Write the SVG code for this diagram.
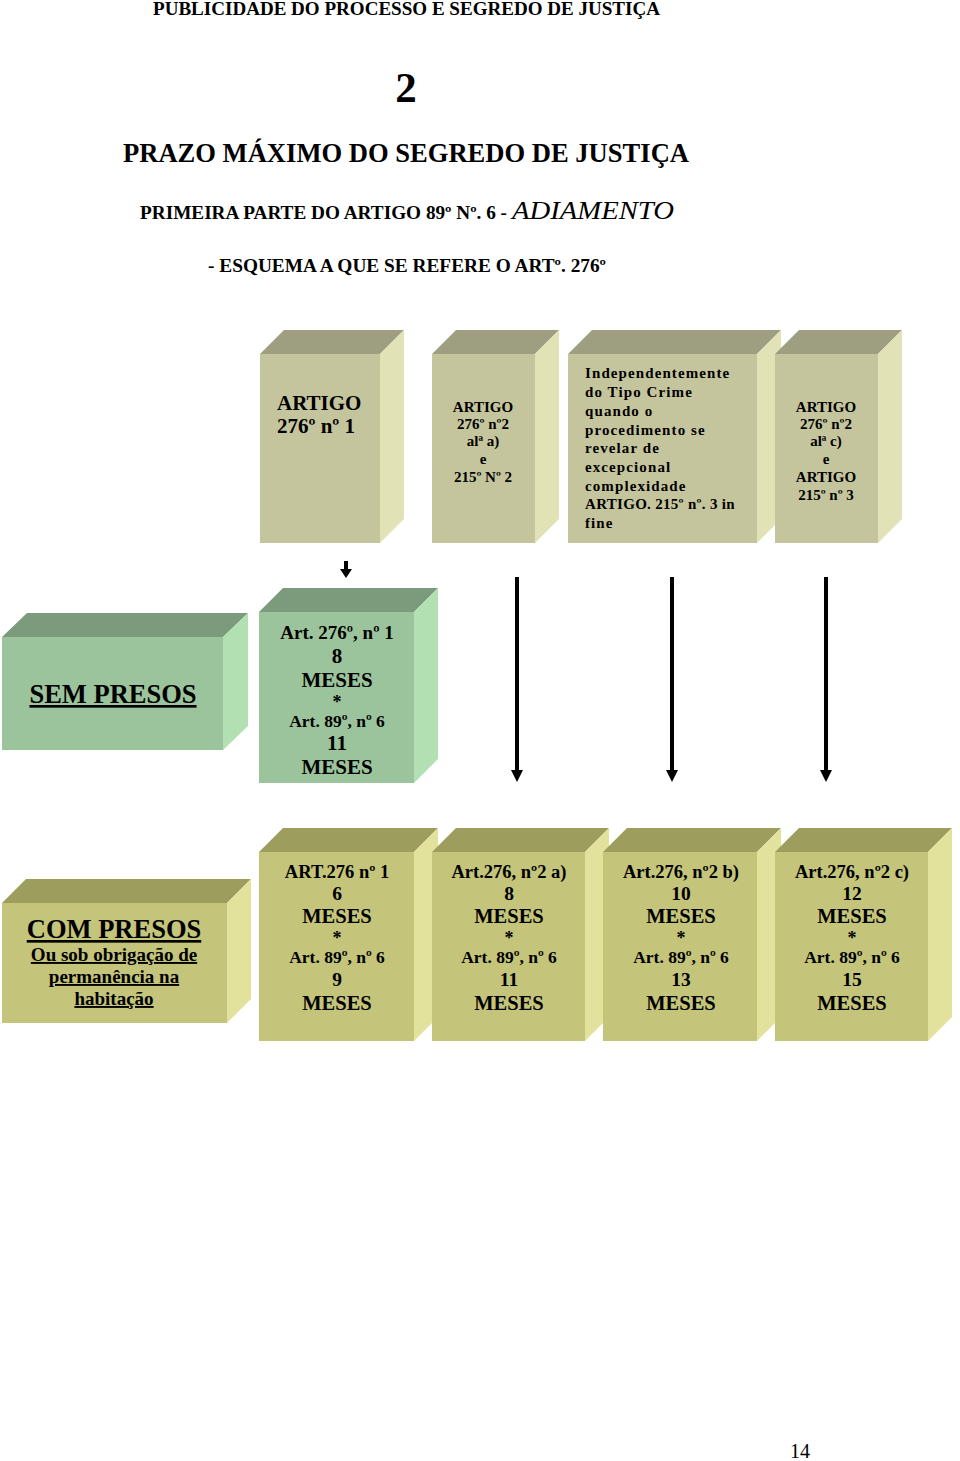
<svg xmlns="http://www.w3.org/2000/svg" width="960" height="1461" viewBox="0 0 960 1461">
<style>
text{font-family:"Liberation Serif","Times New Roman",serif;fill:#000;}
.b{font-weight:bold;}
.c{text-anchor:middle;}
.bf{fill:#C5C59D;}.bt{fill:#9E9F80;}.br{fill:#E2E2B7;}
.gf{fill:#9CC49C;}.gt{fill:#7C9B7C;}.gr{fill:#B3E0B3;}
.yf{fill:#C4C47A;}.yt{fill:#9D9D5E;}.yr{fill:#E2E29C;}
.conn{stroke:#000;stroke-width:4;fill:none;}
</style>
<defs>
<marker id="ah" viewBox="0 0 12 12" refX="0" refY="6" markerWidth="12" markerHeight="12" markerUnits="userSpaceOnUse" orient="auto"><path d="M0,0 L12,6 L0,12 z" fill="#000"/></marker>
<marker id="ahs" viewBox="0 0 9 12" refX="0" refY="6" markerWidth="9" markerHeight="12" markerUnits="userSpaceOnUse" orient="auto"><path d="M0,0 L9,6 L0,12 z" fill="#000"/></marker>
</defs>
<rect width="960" height="1461" fill="#fff"/>

<g id="header">
<text class="b" x="153" y="15" font-size="19" textLength="507" lengthAdjust="spacingAndGlyphs">PUBLICIDADE DO PROCESSO E SEGREDO DE JUSTIÇA</text>
<text class="b c" x="406" y="102" font-size="43">2</text>
<text class="b" x="123" y="162" font-size="27" textLength="566" lengthAdjust="spacingAndGlyphs">PRAZO MÁXIMO DO SEGREDO DE JUSTIÇA</text>
<text x="140" y="219"><tspan class="b" font-size="18" textLength="367" lengthAdjust="spacingAndGlyphs">PRIMEIRA PARTE DO ARTIGO 89º Nº. 6 -</tspan><tspan x="512" font-size="26" font-style="italic" textLength="162" lengthAdjust="spacingAndGlyphs">ADIAMENTO</tspan></text>
<text class="b" x="208" y="272" font-size="18" textLength="398" lengthAdjust="spacingAndGlyphs">- ESQUEMA A QUE SE REFERE O ARTº. 276º</text>
</g>

<g id="n-art276-1">
<polygon class="bt" points="260,354 284,330 404,330 380,354"/>
<polygon class="br" points="380,354 404,330 404,519 380,543"/>
<rect class="bf" x="260" y="354" width="120" height="189"/>
<text class="b" x="277" y="410" font-size="21">ARTIGO</text>
<text class="b" x="277" y="433" font-size="21">276º nº 1</text>
</g>

<g id="n-art276-2a">
<polygon class="bt" points="432,354 456,330 559,330 535,354"/>
<polygon class="br" points="535,354 559,330 559,519 535,543"/>
<rect class="bf" x="432" y="354" width="103" height="189"/>
<g class="b c" font-size="15">
<text x="483" y="412">ARTIGO</text>
<text x="483" y="429">276º nº2</text>
<text x="483" y="446">alª a)</text>
<text x="483" y="464">e</text>
<text x="483" y="482">215º Nº 2</text>
</g>
</g>

<g id="n-independente">
<polygon class="bt" points="568,354 592,330 781,330 757,354"/>
<polygon class="br" points="757,354 781,330 781,519 757,543"/>
<rect class="bf" x="568" y="354" width="189" height="189"/>
<g class="b" font-size="15" letter-spacing="1.1">
<text x="585" y="378">Independentemente</text>
<text x="585" y="397">do Tipo Crime</text>
<text x="585" y="416">quando  o</text>
<text x="585" y="435">procedimento se</text>
<text x="585" y="453">revelar de</text>
<text x="585" y="472">excepcional</text>
<text x="585" y="491">complexidade</text>
<text x="585" y="509" letter-spacing="0.3">ARTIGO. 215º nº. 3 in</text>
<text x="585" y="528">fine</text>
</g>
</g>

<g id="n-art276-2c">
<polygon class="bt" points="775,354 799,330 902,330 878,354"/>
<polygon class="br" points="878,354 902,330 902,519 878,543"/>
<rect class="bf" x="775" y="354" width="103" height="189"/>
<g class="b c" font-size="15">
<text x="826" y="412">ARTIGO</text>
<text x="826" y="429">276º nº2</text>
<text x="826" y="446">alª  c)</text>
<text x="826" y="464">e</text>
<text x="826" y="482">ARTIGO</text>
<text x="826" y="500">215º nº 3</text>
</g>
</g>

<g id="n-sem-presos">
<polygon class="gt" points="2,637 27,613 248,613 223,637"/>
<polygon class="gr" points="223,637 248,613 248,726 223,750"/>
<rect class="gf" x="2" y="637" width="221" height="113"/>
<text class="b c" x="113" y="703" font-size="26.5" text-decoration="underline">SEM PRESOS</text>
</g>

<g id="n-sem-276-1">
<polygon class="gt" points="259,612 283,588 438,588 414,612"/>
<polygon class="gr" points="414,612 438,588 438,759 414,783"/>
<rect class="gf" x="259" y="612" width="155" height="171"/>
<g class="b c">
<text x="337" y="639" font-size="19">Art. 276º,  nº 1</text>
<text x="337" y="663" font-size="21">8</text>
<text x="337" y="687" font-size="21">MESES</text>
<text x="337" y="708" font-size="18">*</text>
<text x="337" y="727" font-size="17.5">Art. 89º,  nº 6</text>
<text x="337" y="750" font-size="21">11</text>
<text x="337" y="774" font-size="21">MESES</text>
</g>
</g>

<g id="n-com-presos">
<polygon class="yt" points="2,903 26,879 251,879 227,903"/>
<polygon class="yr" points="227,903 251,879 251,999 227,1023"/>
<rect class="yf" x="2" y="903" width="225" height="120"/>
<g class="b c" text-decoration="underline">
<text x="114" y="938" font-size="26.5">COM PRESOS</text>
<text x="114" y="961" font-size="19">Ou sob obrigação de</text>
<text x="114" y="983" font-size="19">permanência na</text>
<text x="114" y="1005" font-size="19">habitação</text>
</g>
</g>

<g id="n-com-276-1">
<polygon class="yt" points="259,852 283,828 438,828 414,852"/>
<polygon class="yr" points="414,852 438,828 438,1017 414,1041"/>
<rect class="yf" x="259" y="852" width="155" height="189"/>
<g class="b c">
<text x="337" y="878" font-size="18.5">ART.276 nº 1</text>
<text x="337" y="900" font-size="19.5">6</text>
<text x="337" y="923" font-size="20.5">MESES</text>
<text x="337" y="944" font-size="18">*</text>
<text x="337" y="963" font-size="17.5">Art. 89º,  nº 6</text>
<text x="337" y="986" font-size="19.5">9</text>
<text x="337" y="1010" font-size="20.5">MESES</text>
</g>
</g>

<g id="n-com-276-2a">
<polygon class="yt" points="432,852 456,828 609,828 585,852"/>
<polygon class="yr" points="585,852 609,828 609,1017 585,1041"/>
<rect class="yf" x="432" y="852" width="153" height="189"/>
<g class="b c">
<text x="509" y="878" font-size="18.5">Art.276, nº2 a)</text>
<text x="509" y="900" font-size="19.5">8</text>
<text x="509" y="923" font-size="20.5">MESES</text>
<text x="509" y="944" font-size="18">*</text>
<text x="509" y="963" font-size="17.5">Art. 89º,  nº 6</text>
<text x="509" y="986" font-size="19.5">11</text>
<text x="509" y="1010" font-size="20.5">MESES</text>
</g>
</g>

<g id="n-com-276-2b">
<polygon class="yt" points="603,852 627,828 781,828 757,852"/>
<polygon class="yr" points="757,852 781,828 781,1017 757,1041"/>
<rect class="yf" x="603" y="852" width="154" height="189"/>
<g class="b c">
<text x="681" y="878" font-size="18.5">Art.276, nº2 b)</text>
<text x="681" y="900" font-size="19.5">10</text>
<text x="681" y="923" font-size="20.5">MESES</text>
<text x="681" y="944" font-size="18">*</text>
<text x="681" y="963" font-size="17.5">Art. 89º,  nº 6</text>
<text x="681" y="986" font-size="19.5">13</text>
<text x="681" y="1010" font-size="20.5">MESES</text>
</g>
</g>

<g id="n-com-276-2c">
<polygon class="yt" points="775,852 799,828 952,828 928,852"/>
<polygon class="yr" points="928,852 952,828 952,1017 928,1041"/>
<rect class="yf" x="775" y="852" width="153" height="189"/>
<g class="b c">
<text x="852" y="878" font-size="18.5">Art.276, nº2 c)</text>
<text x="852" y="900" font-size="19.5">12</text>
<text x="852" y="923" font-size="20.5">MESES</text>
<text x="852" y="944" font-size="18">*</text>
<text x="852" y="963" font-size="17.5">Art. 89º,  nº 6</text>
<text x="852" y="986" font-size="19.5">15</text>
<text x="852" y="1010" font-size="20.5">MESES</text>
</g>
</g>

<g id="connectors">
<line class="conn" x1="346" y1="561" x2="346" y2="569" stroke-width="3" marker-end="url(#ahs)"/>
<line class="conn" x1="517" y1="577" x2="517" y2="770" marker-end="url(#ah)"/>
<line class="conn" x1="672" y1="577" x2="672" y2="770" marker-end="url(#ah)"/>
<line class="conn" x1="826" y1="577" x2="826" y2="770" marker-end="url(#ah)"/>
</g>

<text id="page-number" x="790" y="1458" font-size="20">14</text>
</svg>
